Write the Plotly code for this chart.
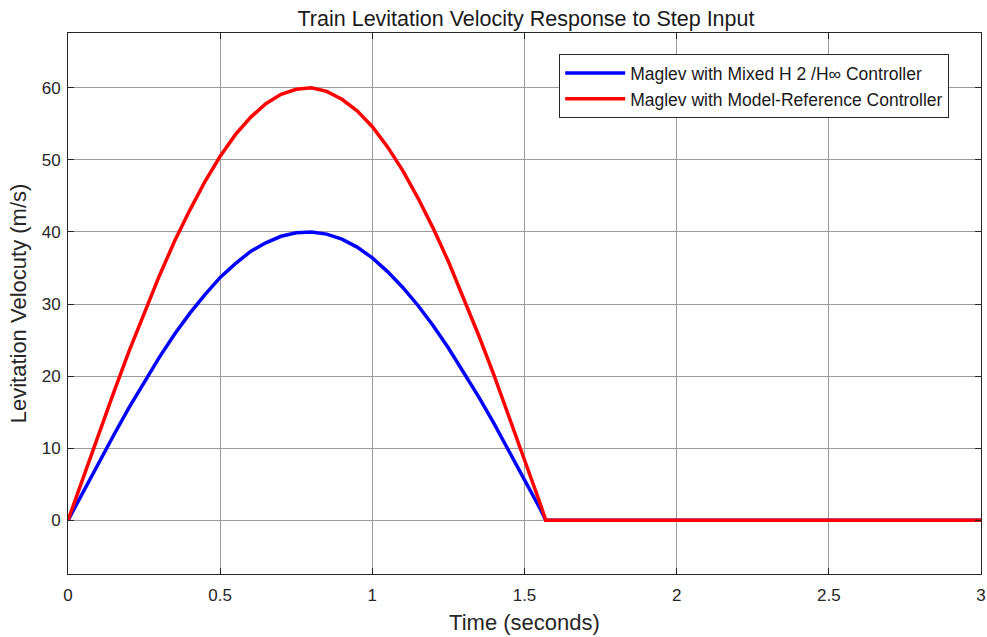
import plotly.graph_objects as go

# Time samples (s)
time_s = [0.0, 0.05, 0.1, 0.15, 0.2, 0.25, 0.3, 0.35, 0.4, 0.45, 0.5, 0.55, 0.6, 0.65,
          0.7, 0.75, 0.785, 0.8, 0.85, 0.9, 0.95, 1.0, 1.05, 1.1, 1.15, 1.2, 1.25, 1.3, 1.35,
          1.4, 1.45, 1.5, 1.55, 1.57, 2.0, 2.5, 3.0]

# Mixed H2/Hinf controller velocity (m/s)
vel_h2hinf = [0.0, 4.0, 7.9, 11.8, 15.6, 19.2, 22.6, 25.8, 28.7, 31.3, 33.7, 35.6, 37.3, 38.5,
              39.4, 39.9, 40.0, 40.0, 39.7, 39.0, 37.9, 36.4, 34.5, 32.3, 29.8, 27.0, 23.9, 20.6, 17.1,
              13.4, 9.6, 5.6, 1.7, 0.0, 0.0, 0.0, 0.0]

# Model-reference controller velocity (m/s)
vel_modelref = [0.0, 6.0, 11.9, 17.7, 23.4, 28.8, 33.9, 38.7, 43.0, 47.0, 50.5, 53.5, 55.9, 57.8,
                59.1, 59.8, 60.0, 60.0, 59.5, 58.4, 56.8, 54.6, 51.8, 48.5, 44.7, 40.5, 35.9, 30.9, 25.6,
                20.1, 14.3, 8.5, 2.5, 0.0, 0.0, 0.0, 0.0]

x_ticks = [0, 0.5, 1, 1.5, 2, 2.5, 3]
x_tick_text = ["0", "0.5", "1", "1.5", "2", "2.5", "3"]
y_ticks = [0, 10, 20, 30, 40, 50, 60]

font_family = "Liberation Sans, Arial, sans-serif"

fig = go.Figure()
fig.add_trace(go.Scatter(x=time_s, y=vel_h2hinf, mode="lines",
                         name="Maglev with Mixed H 2 /H\u221e Controller",
                         line=dict(color="#0000FF", width=3.5)))
fig.add_trace(go.Scatter(x=time_s, y=vel_modelref, mode="lines",
                         name="Maglev with Model-Reference Controller",
                         line=dict(color="#FF0000", width=3.5)))

axis_common = dict(showgrid=True, gridcolor="#9a9a9a", gridwidth=1,
                   showline=True, linecolor="#262626", linewidth=1, mirror="ticks",
                   ticks="inside", ticklen=6, tickcolor="#262626",
                   tickfont=dict(size=17, color="#262626", family=font_family),
                   ticklabeloverflow="allow", automargin=False,
                   zeroline=False)

fig.update_layout(
    width=987, height=637,
    margin=dict(l=68, r=6, t=33, b=63),
    paper_bgcolor="white", plot_bgcolor="white",
    font=dict(family=font_family, color="#262626"),
    title=dict(text="Train Levitation Velocity Response to Step Input",
               x=(68 + 984) / 2 / 987, xanchor="center", y=1 - 18 / 637, yanchor="middle",
               font=dict(size=21.5, color="#1a1a1a", family=font_family)),
    xaxis=dict(range=[0, 3], tickvals=x_ticks, ticktext=x_tick_text,
               ticklabelstandoff=6,
               title=dict(text="Time (seconds)", font=dict(size=22, family=font_family), standoff=10),
               **axis_common),
    yaxis=dict(range=[-7.45, 67.6], tickvals=y_ticks,
               ticklabelstandoff=3,
               title=dict(text="Levitation Velocuty (m/s)", font=dict(size=22, family=font_family), standoff=8),
               **axis_common),
    legend=dict(x=0.538, y=0.961, xanchor="left", yanchor="top",
                bgcolor="white", bordercolor="#262626", borderwidth=1,
                font=dict(size=17.5, color="#1a1a1a", family=font_family),
                itemwidth=60, tracegroupgap=0),
    showlegend=True,
)

fig.write_html("out.html")
